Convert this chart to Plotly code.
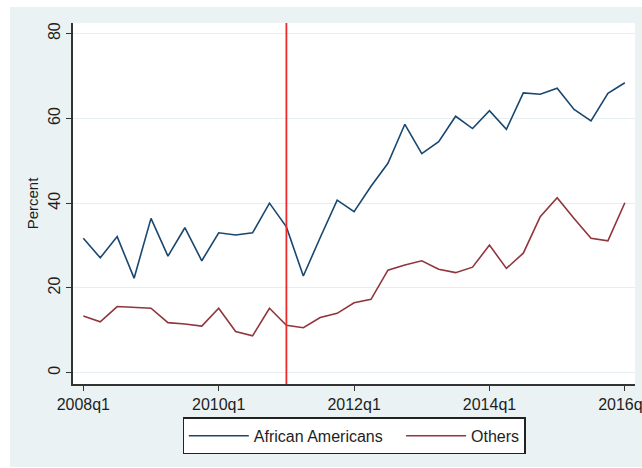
import plotly.graph_objects as go

quarters = [f"{y}q{q}" for y in range(2008, 2016) for q in range(1, 5)] + ["2016q1"]

african_americans = [31.7, 27.1, 32.1, 22.3, 36.4, 27.5, 34.2, 26.4,
                     33.0, 32.5, 33.0, 40.0, 34.4, 22.8, 31.9, 40.7,
                     38.0, 44.0, 49.4, 58.6, 51.7, 54.5, 60.5, 57.6,
                     61.8, 57.4, 66.0, 65.7, 67.1, 62.1, 59.4, 65.9, 68.4]
others = [13.4, 12.0, 15.6, 15.4, 15.2, 11.8, 11.5, 11.0,
          15.2, 9.7, 8.7, 15.2, 11.2, 10.6, 13.0, 14.0,
          16.5, 17.3, 24.2, 25.4, 26.4, 24.4, 23.6, 24.9,
          30.1, 24.6, 28.2, 36.8, 41.3, 36.4, 31.7, 31.1, 40.1]

tick_labels = ["2008q1", "2010q1", "2012q1", "2014q1", "2016q1"]
y_ticks = [0, 20, 40, 60, 80]
event_quarter = "2011q1"

FONT = "Liberation Sans, Arial, sans-serif"
TXT = "#1e1e1e"
BG = "#eaf2f3"

fig = go.Figure()
fig.add_trace(go.Scatter(x=quarters, y=african_americans, mode="lines",
                         name="African Americans   ",
                         line=dict(color="#1a476f", width=1.6)))
fig.add_trace(go.Scatter(x=quarters, y=others, mode="lines", name="Others",
                         line=dict(color="#90353b", width=1.6)))

ev = quarters.index(event_quarter)
fig.add_shape(type="line", xref="x", yref="paper", x0=ev, x1=ev, y0=0, y1=1,
              line=dict(color="#ee2a2a", width=1.8))

# white outer strips around the light graph region
for x0, x1, y0, y1 in [(-0.14, -0.1121, -0.3, 1.1),
                       (-0.14, 1.1, 1.0443, 1.1),
                       (-0.14, 1.1, -0.3, -0.2299)]:
    fig.add_shape(type="rect", xref="paper", yref="paper", x0=x0, x1=x1,
                  y0=y0, y1=y1, fillcolor="white", line=dict(width=0),
                  layer="below")

fig.update_layout(
    width=642, height=468,
    margin=dict(l=73, r=7, t=23, b=84),
    paper_bgcolor=BG, plot_bgcolor="white",
    font=dict(family=FONT, size=16, color=TXT),
    showlegend=True,
    legend=dict(orientation="h", x=0.5, xanchor="center", y=-0.144,
                yanchor="middle", bgcolor="white", bordercolor="#222222",
                borderwidth=1.3, font=dict(size=16, color=TXT),
                itemwidth=60, tracegroupgap=0),
    xaxis=dict(type="category", range=[-0.61, 32.6], automargin=False,
               tickvals=tick_labels, ticktext=tick_labels,
               showgrid=False, zeroline=False,
               showline=True, linecolor="#333333", linewidth=1.5,
               ticks="outside", ticklen=5, tickwidth=1.3, tickcolor="#333333",
               tickfont=dict(size=16, color=TXT)),
    yaxis=dict(range=[-2.67, 82.5], tickvals=y_ticks, tickangle=-90,
               automargin=False,
               showgrid=True, gridcolor="#e6eef1", gridwidth=1,
               zeroline=False,
               showline=True, linecolor="#333333", linewidth=1.5,
               ticks="outside", ticklen=5, tickwidth=1.3, tickcolor="#333333",
               tickfont=dict(size=16, color=TXT),
               title=dict(text="Percent", font=dict(size=15, color=TXT),
                          standoff=4)),
)

fig.write_html("out.html")
